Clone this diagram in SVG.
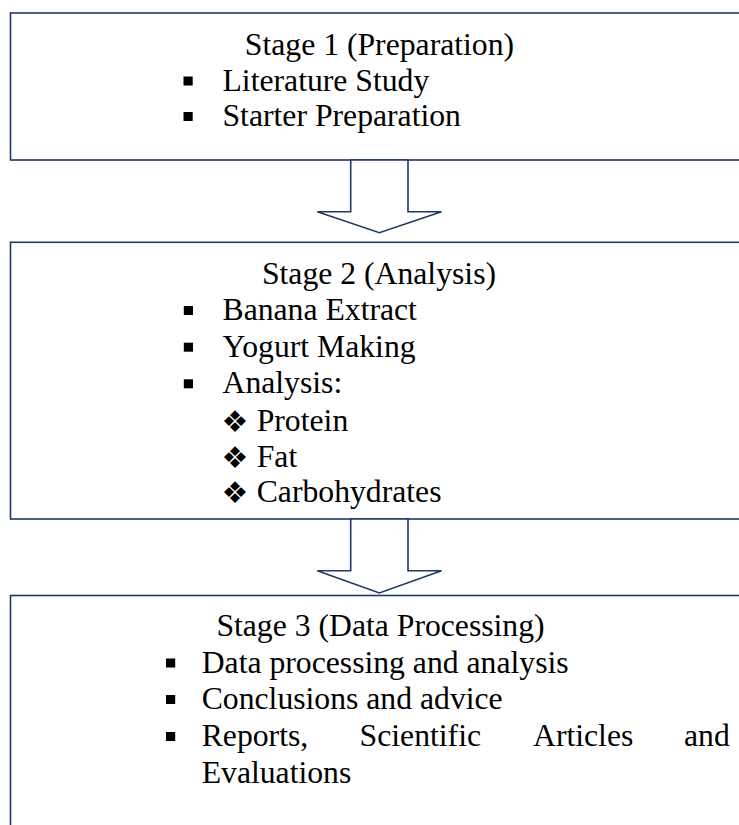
<svg xmlns="http://www.w3.org/2000/svg" width="739" height="825" viewBox="0 0 739 825">
<style>
.box{fill:#ffffff;stroke:#203864;stroke-width:1.6}
.arr{fill:#ffffff;stroke:#203864;stroke-width:1.6;stroke-linejoin:miter}
.t{font-family:"Liberation Serif","Times New Roman",serif;font-size:31.7px;fill:#000000}
.c{text-anchor:middle}
.d{font-family:"DejaVu Sans","Noto Sans",sans-serif;font-size:30px;fill:#000000}
.b{fill:#000000}
</style>
<rect width="739" height="825" fill="#ffffff"/>
<g id="stage1">
<rect class="box" x="10.5" y="13" width="760" height="147"/>
<text class="t c" x="379.5" y="54.5">Stage 1 (Preparation)</text>
<rect class="b" x="183.5" y="76.5" width="9.2" height="9"/>
<text class="t" x="222.5" y="90.7">Literature Study</text>
<rect class="b" x="183.5" y="112" width="9.2" height="9"/>
<text class="t" x="222.5" y="126.2">Starter Preparation</text>
</g>
<g id="stage2">
<rect class="box" x="10.5" y="242.3" width="760" height="276.7"/>
<text class="t c" x="379" y="283.5">Stage 2 (Analysis)</text>
<rect class="b" x="183.8" y="306" width="9.2" height="9"/>
<text class="t" x="222.5" y="320">Banana Extract</text>
<rect class="b" x="183.8" y="342.7" width="9.2" height="9"/>
<text class="t" x="222.5" y="356.7">Yogurt Making</text>
<rect class="b" x="183.8" y="379.3" width="9.2" height="9"/>
<text class="t" x="222.5" y="393.3">Analysis:</text>
<text class="d" x="221.5" y="431.5">❖</text>
<text class="t" x="256.7" y="430.7">Protein</text>
<text class="d" x="221.5" y="467.5">❖</text>
<text class="t" x="256.7" y="466.7">Fat</text>
<text class="d" x="221.5" y="502.5">❖</text>
<text class="t" x="256.7" y="501.7">Carbohydrates</text>
</g>
<g id="stage3">
<rect class="box" x="10.5" y="595.5" width="760" height="260"/>
<text class="t c" x="380.5" y="636">Stage 3 (Data Processing)</text>
<rect class="b" x="166" y="658.5" width="9.2" height="9"/>
<text class="t" x="201.7" y="672.5">Data processing and analysis</text>
<rect class="b" x="166" y="695" width="9.2" height="9"/>
<text class="t" x="201.7" y="709">Conclusions and advice</text>
<rect class="b" x="166" y="732" width="9.2" height="9"/>
<text class="t" x="201.7" y="746">Reports,</text>
<text class="t" x="359.6" y="746">Scientific</text>
<text class="t" x="533" y="746">Articles</text>
<text class="t" x="684" y="746">and</text>
<text class="t" x="201.7" y="783">Evaluations</text>
</g>
<g id="connectors">
<path class="arr" d="M350.7,160 L408,160 L408,211.7 L441.5,211.7 L379.4,232.7 L317.3,211.7 L350.7,211.7 Z"/>
<path class="arr" d="M350.7,519 L408,519 L408,570.7 L441.5,570.7 L379.4,593 L317.3,570.7 L350.7,570.7 Z"/>
</g>
</svg>
